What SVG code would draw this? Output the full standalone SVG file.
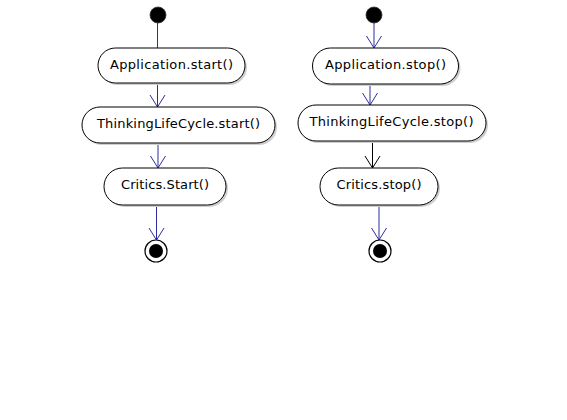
<svg xmlns="http://www.w3.org/2000/svg" width="567" height="420" viewBox="0 0 567 420">
<style>
.box{fill:#fff;stroke:#000;stroke-width:1}
.sh{fill:#cfcfcf;stroke:none}
.lbl{font-family:"DejaVu Sans",sans-serif;font-size:13px;fill:#000;text-anchor:middle}
.blue{stroke:#2e2e9e;stroke-width:1;fill:none}
.blk{stroke:#000;stroke-width:1;fill:none}
.start{fill:#000;stroke:#333;stroke-width:0.8}
.endo{fill:#fff;stroke:#000;stroke-width:1.2}
.endi{fill:#000}
</style>
<defs>
<marker id="ab" markerUnits="userSpaceOnUse" markerWidth="16" markerHeight="18" viewBox="-1 -9 15 18" refX="12" refY="0" orient="auto">
<path d="M0,-7.5 L12,0 L0,7.5" fill="none" stroke="#2e2e9e" stroke-width="1"/>
</marker>
<marker id="ak" markerUnits="userSpaceOnUse" markerWidth="16" markerHeight="18" viewBox="-1 -9 15 18" refX="12" refY="0" orient="auto">
<path d="M0,-7.5 L12,0 L0,7.5" fill="none" stroke="#000" stroke-width="1"/>
</marker>
</defs>
<rect width="567" height="420" fill="#fff"/>
<g id="connectors">
<path class="blue" d="M157.5,23 V48"/>
<path class="blue" d="M157.5,83 V107" marker-end="url(#ab)"/>
<path class="blue" d="M158,143 V168" marker-end="url(#ab)"/>
<path class="blue" d="M156.5,205 V240" marker-end="url(#ab)"/>
<path class="blue" d="M374,23 V48" marker-end="url(#ab)"/>
<path class="blue" d="M370,84 V105" marker-end="url(#ab)"/>
<path class="blk" d="M372.5,141 V168" marker-end="url(#ak)"/>
<path class="blue" d="M379,205 V240" marker-end="url(#ab)"/>
</g>
<g id="start1"><circle class="start" cx="158" cy="15" r="8"/></g>
<g id="appStart">
<rect class="sh" x="100" y="50" width="147" height="35" rx="17.5"/>
<rect class="box" x="98" y="48" width="147" height="35" rx="17.5"/>
<text class="lbl" x="171.5" y="68.5" textLength="123" lengthAdjust="spacing">Application.start()</text>
</g>
<g id="tlcStart">
<rect class="sh" x="84" y="109" width="193" height="36" rx="18"/>
<rect class="box" x="82" y="107" width="193" height="36" rx="18"/>
<text class="lbl" x="178.5" y="128" textLength="163" lengthAdjust="spacing">ThinkingLifeCycle.start()</text>
</g>
<g id="criticsStart">
<rect class="sh" x="106" y="170" width="122" height="37" rx="18.5"/>
<rect class="box" x="104" y="168" width="122" height="37" rx="18.5"/>
<text class="lbl" x="165" y="188.5" textLength="88" lengthAdjust="spacing">Critics.Start()</text>
</g>
<g id="end1">
<circle class="endo" cx="156" cy="251" r="11"/>
<circle class="endi" cx="156" cy="251" r="7"/>
</g>
<g id="start2"><circle class="start" cx="374" cy="15" r="8"/></g>
<g id="appStop">
<rect class="sh" x="314.5" y="50" width="146" height="36" rx="18"/>
<rect class="box" x="312.5" y="48" width="146" height="36" rx="18"/>
<text class="lbl" x="385.5" y="68.5" textLength="121" lengthAdjust="spacing">Application.stop()</text>
</g>
<g id="tlcStop">
<rect class="sh" x="300" y="107" width="188" height="36" rx="18"/>
<rect class="box" x="298" y="105" width="188" height="36" rx="18"/>
<text class="lbl" x="391.5" y="126" textLength="164" lengthAdjust="spacing">ThinkingLifeCycle.stop()</text>
</g>
<g id="criticsStop">
<rect class="sh" x="322" y="170" width="118" height="37" rx="18.5"/>
<rect class="box" x="320" y="168" width="118" height="37" rx="18.5"/>
<text class="lbl" x="379" y="188.5" textLength="85" lengthAdjust="spacing">Critics.stop()</text>
</g>
<g id="end2">
<circle class="endo" cx="380" cy="251" r="11"/>
<circle class="endi" cx="380" cy="251" r="7"/>
</g>
</svg>
